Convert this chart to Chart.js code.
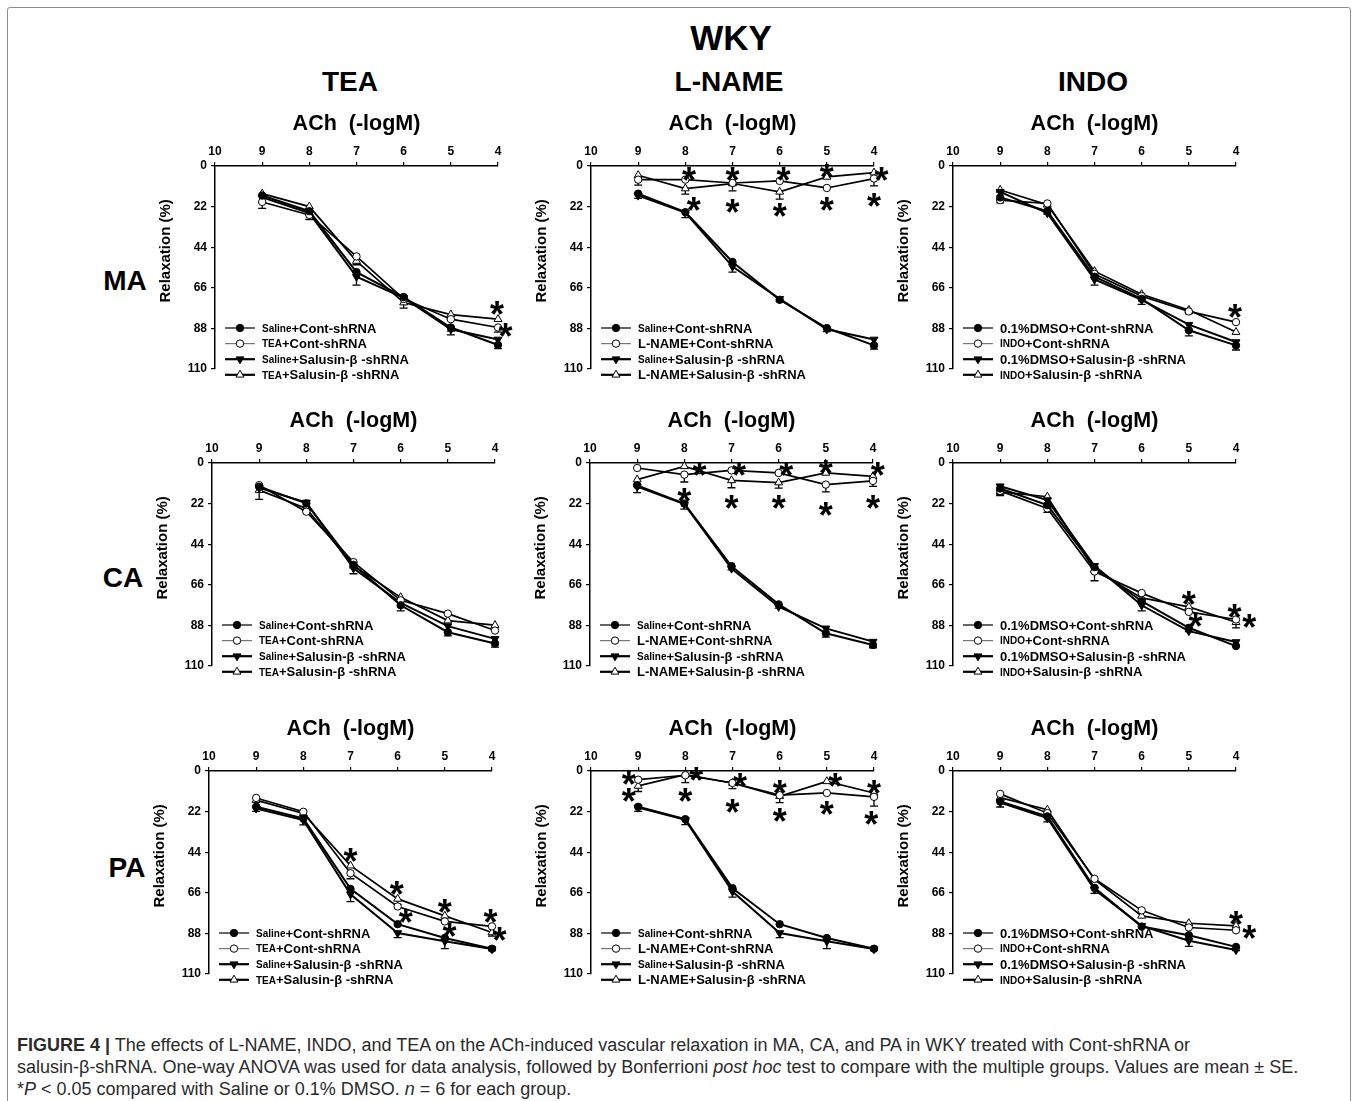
<!DOCTYPE html>
<html>
<head>
<meta charset="utf-8">
<script src="https://cdn.jsdelivr.net/npm/chart.js@4"></script>
<style>
  html, body { margin: 0; padding: 0; background: #fff; overflow: hidden; }
  body { width: 1358px; height: 1101px; position: relative; font-family: 'Liberation Sans', Arial, sans-serif; }
  #frame { position: absolute; left: 7px; top: 7px; width: 1342px; height: 1110px; border: 1px solid #8c8c8c; border-radius: 3px; }
  .head { position: absolute; font-weight: bold; color: #000; transform: translate(-50%, -50%); white-space: nowrap; }
  .panel { position: absolute; }
  #caption { position: absolute; left: 17px; top: 1034px; font-size: 18px; line-height: 22px; color: #2b2b2b; white-space: nowrap; }
</style>
</head>
<body>
<div id="frame"></div>

<div class="head" style="left:731px; top:38px; font-size:35px;">WKY</div>
<div class="head" style="left:350px; top:82px; font-size:28px;">TEA</div>
<div class="head" style="left:729px; top:82px; font-size:28px;">L-NAME</div>
<div class="head" style="left:1093px; top:82px; font-size:28px;">INDO</div>
<div class="head" style="left:125px; top:281px; font-size:28px;">MA</div>
<div class="head" style="left:123px; top:578px; font-size:28px;">CA</div>
<div class="head" style="left:127px; top:868px; font-size:28px;">PA</div>

<div id="charts"></div>

<div id="caption"><b>FIGURE 4 |</b> The effects of L-NAME, INDO, and TEA on the ACh-induced vascular relaxation in MA, CA, and PA in WKY treated with Cont-shRNA or<br>salusin-β-shRNA. One-way ANOVA was used for data analysis, followed by Bonferrioni <i>post hoc</i> test to compare with the multiple groups. Values are mean ± SE.<br>*<i>P</i> &lt; 0.05 compared with Saline or 0.1% DMSO. <i>n</i> = 6 for each group.</div>

<script>
// ACh concentration (-logM) and axis ticks
const doses = [9, 8, 7, 6, 5, 4];
const xTicks = [10, 9, 8, 7, 6, 5, 4];
const yTicks = [0, 22, 44, 66, 88, 110];

// legend names, split into group prefix and treatment
const teaNames = [['Saline', '+Cont-shRNA'], ['TEA', '+Cont-shRNA'], ['Saline', '+Salusin-β -shRNA'], ['TEA', '+Salusin-β -shRNA']];
const lnameNames = [['Saline', '+Cont-shRNA'], ['L-NAME', '+Cont-shRNA'], ['Saline', '+Salusin-β -shRNA'], ['L-NAME', '+Salusin-β -shRNA']];
const indoNames = [['0.1%DMSO', '+Cont-shRNA'], ['INDO', '+Cont-shRNA'], ['0.1%DMSO', '+Salusin-β -shRNA'], ['INDO', '+Salusin-β -shRNA']];
const smallPrefixes = ['Saline', 'TEA', 'INDO'];

// relaxation (%) per group: [control, drug+control, control+salusin, drug+salusin]
const maTea = [[16, 24.5, 57.5, 71, 87.5, 97], [19.5, 26.5, 49, 72, 83, 87.5], [17, 25.5, 60, 71.5, 88.5, 94], [15, 22, 51.5, 74, 80.5, 83]];
const maTeaErr = [[0, 2, 0, 0, 2, 2], [3.5, 2.5, 0, 0, 0, 2.5], [0, 0, 4.5, 0, 3, 0], [0, 0, 2, 3, 2.5, 0]];
const maTeaStars = [[4.02, 77], [3.84, 89]];

const maLname = [[15, 25, 52, 72.5, 87.8, 97.2], [7.4, 7.4, 9.2, 8.1, 11.9, 6.8], [16, 25.2, 54.5, 72, 88.5, 94], [5, 12.2, 9.5, 14, 5.9, 3.6]];
const maLnameErr = [[2.5, 3, 0, 0, 2, 2], [3, 0, 0, 0, 0, 4], [0, 0, 3, 1.5, 0, 0], [0, 3, 4, 4, 0, 0]];
const maLnameStars = [[7.92, 4.5], [7, 4.5], [5.92, 4.5], [5, 2.5], [3.84, 4.5], [7.82, 20.5], [7, 21.5], [6, 24], [5, 20.5], [4, 18.5]];

const maIndo = [[17, 24.5, 60, 72, 89, 97.2], [18.5, 20.3, 58.5, 70.5, 78.8, 84.6], [14, 25.5, 61.5, 72.5, 86, 95.4], [13, 21, 57, 69.5, 78, 90]];
const maIndoErr = [[3, 1.5, 0, 3, 3, 2.5], [0, 0, 0, 0, 0, 0], [0, 0, 3, 0, 3, 0], [0, 0, 0, 0, 2, 0]];
const maIndoStars = [[4.02, 78.5]];

const caTea = [[12.9, 21.9, 55.2, 77.1, 91.7, 97.8], [12, 26.4, 53.7, 74.4, 81.6, 90.8], [13.5, 21.4, 57, 75.8, 88.4, 95.3], [14.7, 24.6, 55.7, 72.8, 85.4, 87.9]];
const caTeaErr = [[0, 2, 0, 3, 2, 2], [0, 0, 0, 0, 0, 0], [0, 0, 3, 0, 0, 0], [5, 1.5, 0, 0, 0, 0]];
const caTeaStars = [];

const caLname = [[12.1, 22, 55.9, 76.6, 92.3, 98.6], [2.7, 6.3, 4, 5.4, 11.7, 9.7], [12.8, 22.3, 57.2, 77.9, 89.6, 96.8], [9, 1.8, 9.4, 10.6, 5.4, 7.2]];
const caLnameErr = [[4, 3, 2, 2, 2, 1.5], [0, 4, 0, 0, 4, 3], [0, 0, 0, 0, 0, 0], [0, 0, 4, 3, 0, 0]];
const caLnameStars = [[7.68, 3], [6.84, 3], [5.84, 3], [5, 2.2], [3.9, 3], [8, 17.5], [7, 21], [6, 21], [5, 24.7], [4, 21]];

const caIndo = [[13.8, 22.8, 56.4, 74.9, 89.3, 99.2], [15.1, 24.6, 58.8, 70.5, 80.7, 84.8], [12.6, 20.1, 55.7, 77.1, 91.1, 97], [15.6, 18.3, 57.9, 73.1, 78, 86.3]];
const caIndoErr = [[3, 4, 0, 0, 2, 0], [0, 0, 5, 0, 0, 0], [0, 0, 0, 3, 0, 0], [2, 0, 0, 0, 0, 3]];
const caIndoStars = [[5, 73], [4.86, 85], [4.03, 80.3], [3.72, 85.7]];

const paTea = [[19.4, 25.7, 63.9, 83, 90.5, 96.3], [14.6, 22.1, 55.4, 73.4, 81.5, 84.2], [20.3, 26.6, 66.8, 87.8, 92.3, 96.5], [15.8, 23, 51.3, 69.3, 78.5, 87.5]];
const paTeaErr = [[2.5, 3.5, 0, 0, 0, 1], [0, 0, 3, 0, 0, 0], [0, 0, 4, 2.5, 4, 0], [0, 0, 0, 3, 0, 2]];
const paTeaStars = [[7, 45.5], [6.02, 63.5], [5.83, 78.8], [5, 73.4], [4.9, 86], [4.03, 78.5], [3.84, 88.4]];

const paLname = [[19.4, 26.1, 63.5, 83, 90.5, 96.3], [4.7, 2.3, 6.5, 13.1, 11.9, 14], [19.8, 26.5, 65.3, 87.8, 92.3, 96.5], [8.1, 2, 6.5, 13.7, 5.6, 11.9]];
const paLnameErr = [[2.5, 3, 0, 0, 0, 1], [0, 4, 3, 4, 0, 5], [0, 0, 3, 2.5, 4, 0], [3, 0, 0, 0, 0, 0]];
const paLnameStars = [[9.2, 4], [9.2, 13], [8, 13], [7.77, 1.5], [6.84, 5], [7, 19], [6, 8.6], [6, 24], [4.82, 5], [5, 20.3], [4, 8.6], [4.06, 25.7]];

const paIndo = [[16.5, 24.6, 63.3, 84.3, 89, 95.3], [12.4, 22.8, 58.4, 75.5, 84.8, 86.3], [17.1, 25.5, 64.2, 83.9, 92, 97], [14.4, 21, 58.8, 78.5, 82.5, 83.9]];
const paIndoErr = [[3, 3, 3, 0, 0, 2], [0, 0, 0, 0, 0, 0], [0, 0, 0, 0, 3, 0], [0, 0, 0, 0, 0, 2]];
const paIndoStars = [[4, 79.4], [3.72, 87.5]];

const FONT = "'Liberation Sans', Arial, sans-serif";

// marker look for the four groups
const marks = [
  { style: 'circle', filled: true, r: 3.7, rot: 0 },
  { style: 'circle', filled: false, r: 3.7, rot: 0 },
  { style: 'triangle', filled: true, r: 4.6, rot: 180 },
  { style: 'triangle', filled: false, r: 4.6, rot: 0 }
];

function drawMark(ctx, m, x, y) {
  ctx.beginPath();
  if (m.style === 'circle') {
    ctx.arc(x, y, m.r, 0, Math.PI * 2);
  } else {
    const s = m.rot ? -1 : 1;
    ctx.moveTo(x, y - s * m.r);
    ctx.lineTo(x - m.r * 0.866, y + s * m.r * 0.5);
    ctx.lineTo(x + m.r * 0.866, y + s * m.r * 0.5);
    ctx.closePath();
  }
  ctx.fillStyle = m.filled ? '#000' : '#fff';
  ctx.fill();
  ctx.lineWidth = 1;
  ctx.strokeStyle = '#000';
  ctx.stroke();
}

// SE bars hanging below each mean
const errorBars = {
  id: 'errorBars',
  beforeDatasetsDraw(chart) {
    const ctx = chart.ctx;
    const ys = chart.scales.y;
    ctx.save();
    ctx.strokeStyle = '#000';
    ctx.lineWidth = 1.3;
    chart.data.datasets.forEach((ds, d) => {
      const meta = chart.getDatasetMeta(d);
      ds.errors.forEach((e, i) => {
        if (!e) return;
        const p = meta.data[i];
        const y1 = ys.getPixelForValue(ds.data[i].y + e);
        ctx.beginPath();
        ctx.moveTo(p.x, p.y);
        ctx.lineTo(p.x, y1);
        ctx.moveTo(p.x - 4, y1);
        ctx.lineTo(p.x + 4, y1);
        ctx.stroke();
      });
    });
    ctx.restore();
  }
};

// significance asterisks, placed in data units
const starMarks = {
  id: 'starMarks',
  afterDatasetsDraw(chart, args, opts) {
    const ctx = chart.ctx;
    const xs = chart.scales.x, ys = chart.scales.y;
    ctx.save();
    ctx.font = 'bold 36px ' + FONT;
    ctx.fillStyle = '#000';
    ctx.textAlign = 'left';
    ctx.textBaseline = 'alphabetic';
    const mt = ctx.measureText('*');
    const dx = (mt.actualBoundingBoxRight - mt.actualBoundingBoxLeft) / 2;
    const dy = (mt.actualBoundingBoxAscent - mt.actualBoundingBoxDescent) / 2;
    (opts.points || []).forEach(([x, y]) => {
      ctx.fillText('*', xs.getPixelForValue(x) - dx, ys.getPixelForValue(y) + dy);
    });
    ctx.restore();
  }
};

// legend in the lower left corner of the plot
const cornerLegend = {
  id: 'cornerLegend',
  afterDraw(chart, args, opts) {
    const ctx = chart.ctx;
    const area = chart.chartArea;
    const x0 = area.left + 10;
    ctx.save();
    ctx.textBaseline = 'middle';
    ctx.textAlign = 'left';
    opts.names.forEach((name, i) => {
      const y = area.bottom - 41 + i * 15.6;
      ctx.beginPath();
      ctx.moveTo(x0, y);
      ctx.lineTo(x0 + 30, y);
      ctx.lineWidth = i < 2 ? 1.2 : 2.2;
      ctx.strokeStyle = i === 1 ? '#777' : '#000';
      ctx.stroke();
      drawMark(ctx, marks[i], x0 + 15, y);
      let tx = x0 + 37;
      ctx.fillStyle = '#000';
      ctx.font = 'bold ' + (smallPrefixes.includes(name[0]) ? 10 : 13) + 'px ' + FONT;
      ctx.fillText(name[0], tx, y + 1);
      tx += ctx.measureText(name[0]).width;
      ctx.font = 'bold 13px ' + FONT;
      ctx.fillText(name[1], tx, y + 1);
    });
    ctx.restore();
  }
};

const PLOT_W = 283, PLOT_H = 203, AXIS_W = 62, AXIS_H = 60, PAD_R = 40, PAD_B = 22;

function makePanel(left, top, names, values, errors, stars) {
  const holder = document.createElement('div');
  holder.className = 'panel';
  holder.style.left = (left - AXIS_W) + 'px';
  holder.style.top = (top - AXIS_H) + 'px';
  const canvas = document.createElement('canvas');
  canvas.width = AXIS_W + PLOT_W + PAD_R;
  canvas.height = AXIS_H + PLOT_H + PAD_B;
  holder.appendChild(canvas);
  document.getElementById('charts').appendChild(holder);

  const datasets = values.map((vals, k) => ({
    label: names[k].join(''),
    data: doses.map((d, i) => ({ x: d, y: vals[i] })),
    errors: errors[k],
    borderColor: '#000',
    borderWidth: k % 2 ? 1.7 : 2,
    backgroundColor: marks[k].filled ? '#000' : '#fff',
    pointStyle: marks[k].style,
    pointRotation: marks[k].rot,
    pointRadius: marks[k].r,
    pointBorderWidth: 1,
    pointBorderColor: '#000',
    pointBackgroundColor: marks[k].filled ? '#000' : '#fff',
    tension: 0,
    clip: false
  }));

  const tickFont = { family: FONT, size: 12, weight: 'bold' };
  new Chart(canvas, {
    type: 'line',
    data: { datasets },
    options: {
      responsive: false,
      animation: false,
      layout: { padding: { left: 0, top: 0, right: PAD_R, bottom: PAD_B } },
      plugins: {
        legend: { display: false },
        tooltip: { enabled: false },
        starMarks: { points: stars },
        cornerLegend: { names }
      },
      scales: {
        x: {
          type: 'linear',
          position: 'top',
          reverse: true,
          min: 4,
          max: 10,
          afterBuildTicks: s => { s.ticks = xTicks.map(v => ({ value: v })); },
          afterFit: s => { s.height = AXIS_H; },
          ticks: { font: tickFont, color: '#000', padding: 3 },
          grid: { drawOnChartArea: false, tickLength: 4, color: '#000', lineWidth: 1.2 },
          border: { color: '#000', width: 1.5 },
          title: { display: true, text: 'ACh  (-logM)', color: '#000', font: { family: FONT, size: 21.5, weight: 'bold' }, padding: { top: 5, bottom: 0 } }
        },
        y: {
          type: 'linear',
          reverse: true,
          min: 0,
          max: 110,
          afterBuildTicks: s => { s.ticks = yTicks.map(v => ({ value: v })); },
          afterFit: s => { s.width = AXIS_W; },
          ticks: { font: tickFont, color: '#000', padding: 4 },
          grid: { drawOnChartArea: false, tickLength: 4, color: '#000', lineWidth: 1.2 },
          border: { color: '#000', width: 1.5 },
          // leading spaces lift the label a little above the axis middle
          title: { display: true, text: '        Relaxation (%)', color: '#000', font: { family: FONT, size: 15, weight: 'bold' }, padding: { top: 4, bottom: 0 } }
        }
      }
    },
    plugins: [errorBars, starMarks, cornerLegend]
  });
}

makePanel(215, 166, teaNames, maTea, maTeaErr, maTeaStars);
makePanel(591, 166, lnameNames, maLname, maLnameErr, maLnameStars);
makePanel(953, 166, indoNames, maIndo, maIndoErr, maIndoStars);
makePanel(212, 463, teaNames, caTea, caTeaErr, caTeaStars);
makePanel(590, 463, lnameNames, caLname, caLnameErr, caLnameStars);
makePanel(953, 463, indoNames, caIndo, caIndoErr, caIndoStars);
makePanel(209, 771, teaNames, paTea, paTeaErr, paTeaStars);
makePanel(591, 771, lnameNames, paLname, paLnameErr, paLnameStars);
makePanel(953, 771, indoNames, paIndo, paIndoErr, paIndoStars);
</script>
</body>
</html>
